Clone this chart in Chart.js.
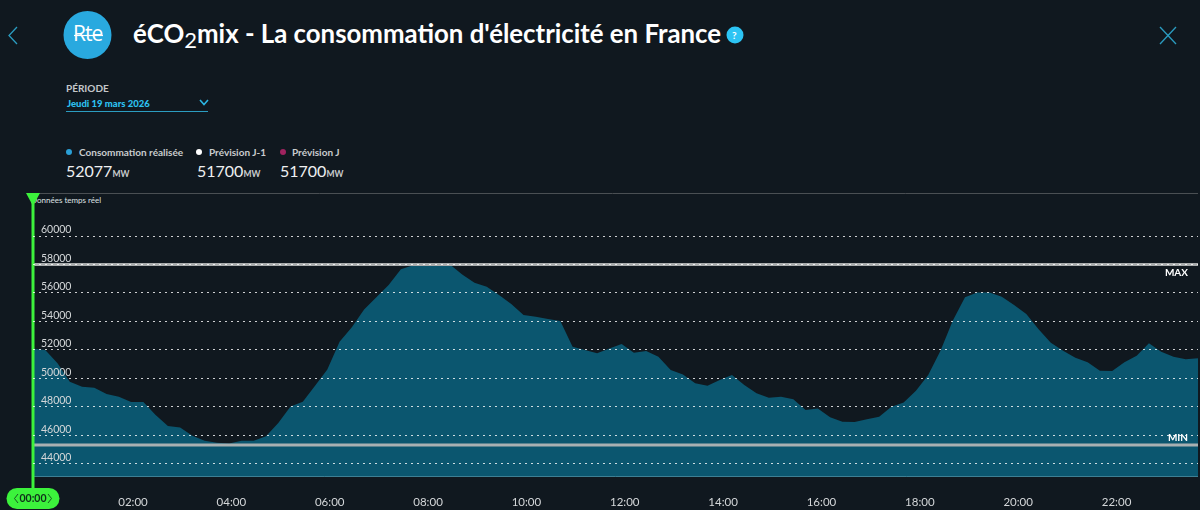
<!DOCTYPE html>
<html lang="fr">
<head>
<meta charset="utf-8">
<title>éCO2mix</title>
<script src="https://cdn.jsdelivr.net/npm/chart.js@4/dist/chart.umd.min.js"></script>
<style>
  html, body { margin: 0; padding: 0; background: #10181f; }
  body { width: 1200px; height: 510px; overflow: hidden; position: relative; font-family: Lato, "Open Sans", sans-serif; color: #fff; }
  .abs { position: absolute; white-space: nowrap; line-height: 1; }
  #chart { position: absolute; left: 0; top: 0; }
  .title { left: 133px; top: 21px; font-size: 25.8px; font-weight: 700; color: #fff; }
  .title sub { font-size: 22px; line-height: 0; vertical-align: -5px; font-weight: 400; }
  .leg { font-size: 10px; font-weight: 700; color: #c9ccce; top: 147px; }
  .val { font-size: 16px; color: #eef0f1; top: 163px; }
  .val span { font-size: 8.5px; font-weight: 700; color: #c9ccce; }
  .dot { position: absolute; width: 6px; height: 6px; border-radius: 50%; top: 149px; }
</style>
</head>
<body>
<svg class="abs" style="left:0;top:0" width="1200" height="120">
  <polyline points="17,27 9,35.5 17,44" fill="none" stroke="#2b9cc0" stroke-width="1.3"/>
  <line x1="1160" y1="27" x2="1176" y2="44" stroke="#2b9cc0" stroke-width="1.3"/>
  <line x1="1176" y1="27" x2="1160" y2="44" stroke="#2b9cc0" stroke-width="1.3"/>
  <circle cx="87.5" cy="35" r="24" fill="#29a9df"/>
  <line x1="74" y1="35.5" x2="103" y2="35.5" stroke="#fff" stroke-width="1.2"/>
  <circle cx="735" cy="35" r="8.5" fill="#2cc4f4"/>
  <polyline points="200,100 204,104.5 208,100" fill="none" stroke="#2cb6e4" stroke-width="1.6"/>
  <line x1="66" y1="111.5" x2="208" y2="111.5" stroke="#2b9cc0" stroke-width="1"/>
</svg>
<div class="abs" style="left:73px;top:23px;font-size:21px;font-family:'Open Sans';color:#fff;letter-spacing:-1px">Rte</div>
<div class="abs" style="left:732px;top:30px;font-size:10px;font-weight:700;color:#fff">?</div>
<div class="abs title">éCO<sub>2</sub>mix - La consommation d'électricité en France</div>
<div class="abs" style="left:66px;top:83px;font-size:10px;font-weight:700;color:#c4c7ca">PÉRIODE</div>
<div class="abs" style="left:67px;top:99px;font-size:9.5px;font-weight:900;color:#2cc0f0">Jeudi 19 mars 2026</div>

<div class="dot" style="left:66px;background:#2a9fd6"></div>
<div class="abs leg" style="left:79px">Consommation réalisée</div>
<div class="abs val" style="left:66px">52077<span>MW</span></div>
<div class="dot" style="left:196px;background:#fff"></div>
<div class="abs leg" style="left:209px">Prévision J-1</div>
<div class="abs val" style="left:197px">51700<span>MW</span></div>
<div class="dot" style="left:280px;background:#a0235f"></div>
<div class="abs leg" style="left:292px">Prévision J</div>
<div class="abs val" style="left:280px">51700<span>MW</span></div>
<div class="abs" style="left:31px;top:196px;font-size:8px;color:#dfe2e4">Données temps réel</div>

<canvas id="chart" width="1200" height="510"></canvas>

<script>
// values, one every quarter hour from 00:00
const consommation = [
  52077, 51986, 51050, 49760, 49410, 49340, 48890, 48700,
  48330, 48330, 47410, 46640, 46540, 45950, 45600, 45470,
  45420, 45600, 45600, 45920, 46860, 48010, 48350, 49480,
  50620, 52570, 53580, 54840, 55690, 56555, 57660, 57940,
  57980, 57980, 57990, 57300, 56720, 56440, 55850, 55220,
  54450, 54330, 54165, 54025, 52220, 51985, 51750, 52100,
  52400, 51800, 51915, 51515, 50580, 50270, 49640, 49480,
  49880, 50230, 49525, 48940, 48630, 48700, 48520, 47770,
  47880, 47250, 46950, 46920, 47110, 47300, 48000, 48290,
  49120, 50230, 51940, 54040, 55690, 56020, 56020, 55730,
  55150, 54520, 53440, 52500, 51940, 51445, 51120, 50530,
  50510, 51120, 51590, 52460, 51870, 51515, 51330, 51400
];
const stepMinutes = 15;
const maxConso = 57990;
const minConso = 45300;
const yTicks = [44000, 46000, 48000, 50000, 52000, 54000, 56000, 58000, 60000];
const xTickLabels = ['02:00', '04:00', '06:00', '08:00', '10:00', '12:00', '14:00', '16:00', '18:00', '20:00', '22:00'];
const cursorLabel = '00:00';

const toMinutes = s => Number(s.slice(0, 2)) * 60 + Number(s.slice(3));
const times = consommation.map((_, i) => i * stepMinutes);
const flat = v => [{ x: 0, y: v }, { x: times[times.length - 1], y: v }];

// frame lines, the green cursor, the MAX / MIN captions
const overlay = {
  id: 'overlay',
  afterDatasetsDraw(chart) {
    const { ctx, chartArea: a, scales } = chart;
    ctx.save();
    ctx.strokeStyle = '#4a4f53';
    ctx.lineWidth = 1;
    ctx.beginPath();
    ctx.moveTo(27, a.top + 0.5);
    ctx.lineTo(a.right, a.top + 0.5);
    ctx.stroke();
    ctx.strokeStyle = '#3d7f93';
    ctx.beginPath();
    ctx.moveTo(a.left, a.bottom - 0.5);
    ctx.lineTo(a.right, a.bottom - 0.5);
    ctx.stroke();

    ctx.fillStyle = '#fff';
    ctx.font = '700 10px Lato';
    ctx.textAlign = 'right';
    ctx.textBaseline = 'middle';
    ctx.fillText('MAX', 1188, scales.y.getPixelForValue(maxConso) + 8.5);
    ctx.fillText('MIN', 1188, scales.y.getPixelForValue(minConso) - 7.5);

    const green = '#3cf23c';
    const cx = scales.x.getPixelForValue(0);
    ctx.fillStyle = green;
    ctx.fillRect(cx - 1.5, a.top, 3, 297);
    ctx.beginPath();
    ctx.moveTo(cx - 7, a.top);
    ctx.lineTo(cx + 7, a.top);
    ctx.lineTo(cx, a.top + 13);
    ctx.closePath();
    ctx.fill();

    ctx.beginPath();
    ctx.roundRect(6.5, 488, 53, 21, 10.5);
    ctx.fill();
    ctx.fillStyle = '#10301a';
    ctx.font = '700 10.5px Lato';
    ctx.textAlign = 'center';
    ctx.fillText(cursorLabel, 33, 498.5);
    ctx.strokeStyle = '#10301a';
    ctx.lineWidth = 0.8;
    ctx.beginPath();
    ctx.moveTo(18, 494); ctx.lineTo(14.5, 498.5); ctx.lineTo(18, 503);
    ctx.moveTo(48, 494); ctx.lineTo(51.5, 498.5); ctx.lineTo(48, 503);
    ctx.stroke();
    ctx.restore();
  }
};

new Chart(document.getElementById('chart').getContext('2d'), {
  type: 'line',
  plugins: [overlay],
  data: {
    datasets: [
      {
        label: 'Consommation réalisée',
        data: consommation.map((v, i) => ({ x: times[i], y: v })),
        fill: 'start',
        backgroundColor: '#0b566f',
        borderWidth: 0,
        pointRadius: 0,
        tension: 0,
        order: 2,
        xAxisID: 'x'
      },
      { label: 'MAX', data: flat(maxConso), borderColor: '#a9acad', borderWidth: 3, pointRadius: 0, order: 1, xAxisID: 'x' },
      { label: 'MIN', data: flat(minConso), borderColor: '#a9b0b2', borderWidth: 3, pointRadius: 0, order: 1, xAxisID: 'x' }
    ]
  },
  options: {
    responsive: false,
    animation: false,
    layout: { padding: { top: 193, left: 33, right: 2, bottom: 0 } },
    plugins: { legend: { display: false }, tooltip: { enabled: false } },
    scales: {
      x: {
        type: 'linear',
        position: 'bottom',
        display: false,
        min: 0,
        max: times[times.length - 1]
      },
      // the time labels sit slightly off the data grid in the original
      xLabels: {
        type: 'linear',
        position: 'bottom',
        min: -2,
        max: 1419.4,
        afterFit(scale) { scale.height = 33; },
        afterBuildTicks(scale) { scale.ticks = xTickLabels.map(s => ({ value: toMinutes(s), label: s })); },
        grid: { display: false },
        border: { display: false },
        ticks: {
          autoSkip: false,
          maxRotation: 0,
          padding: 10,
          color: '#d4d7d9',
          font: { family: 'Lato', size: 11.5 },
          callback: v => xTickLabels.find(s => toMinutes(s) === v)
        }
      },
      y: {
        min: 43058,
        max: 63023,
        afterFit(scale) { scale.width = 0; },
        afterBuildTicks(scale) { scale.ticks = yTicks.map(v => ({ value: v })); },
        border: { display: false, dash: [2, 4] },
        grid: { color: 'rgba(255,255,255,0.8)', drawTicks: false, lineWidth: 1, z: 1 },
        ticks: { z: 1, mirror: true, padding: 8, labelOffset: -6, color: '#d4d7d9', font: { family: 'Lato', size: 10.5 }, callback: v => String(v) }
      }
    }
  }
});
</script>
</body>
</html>
